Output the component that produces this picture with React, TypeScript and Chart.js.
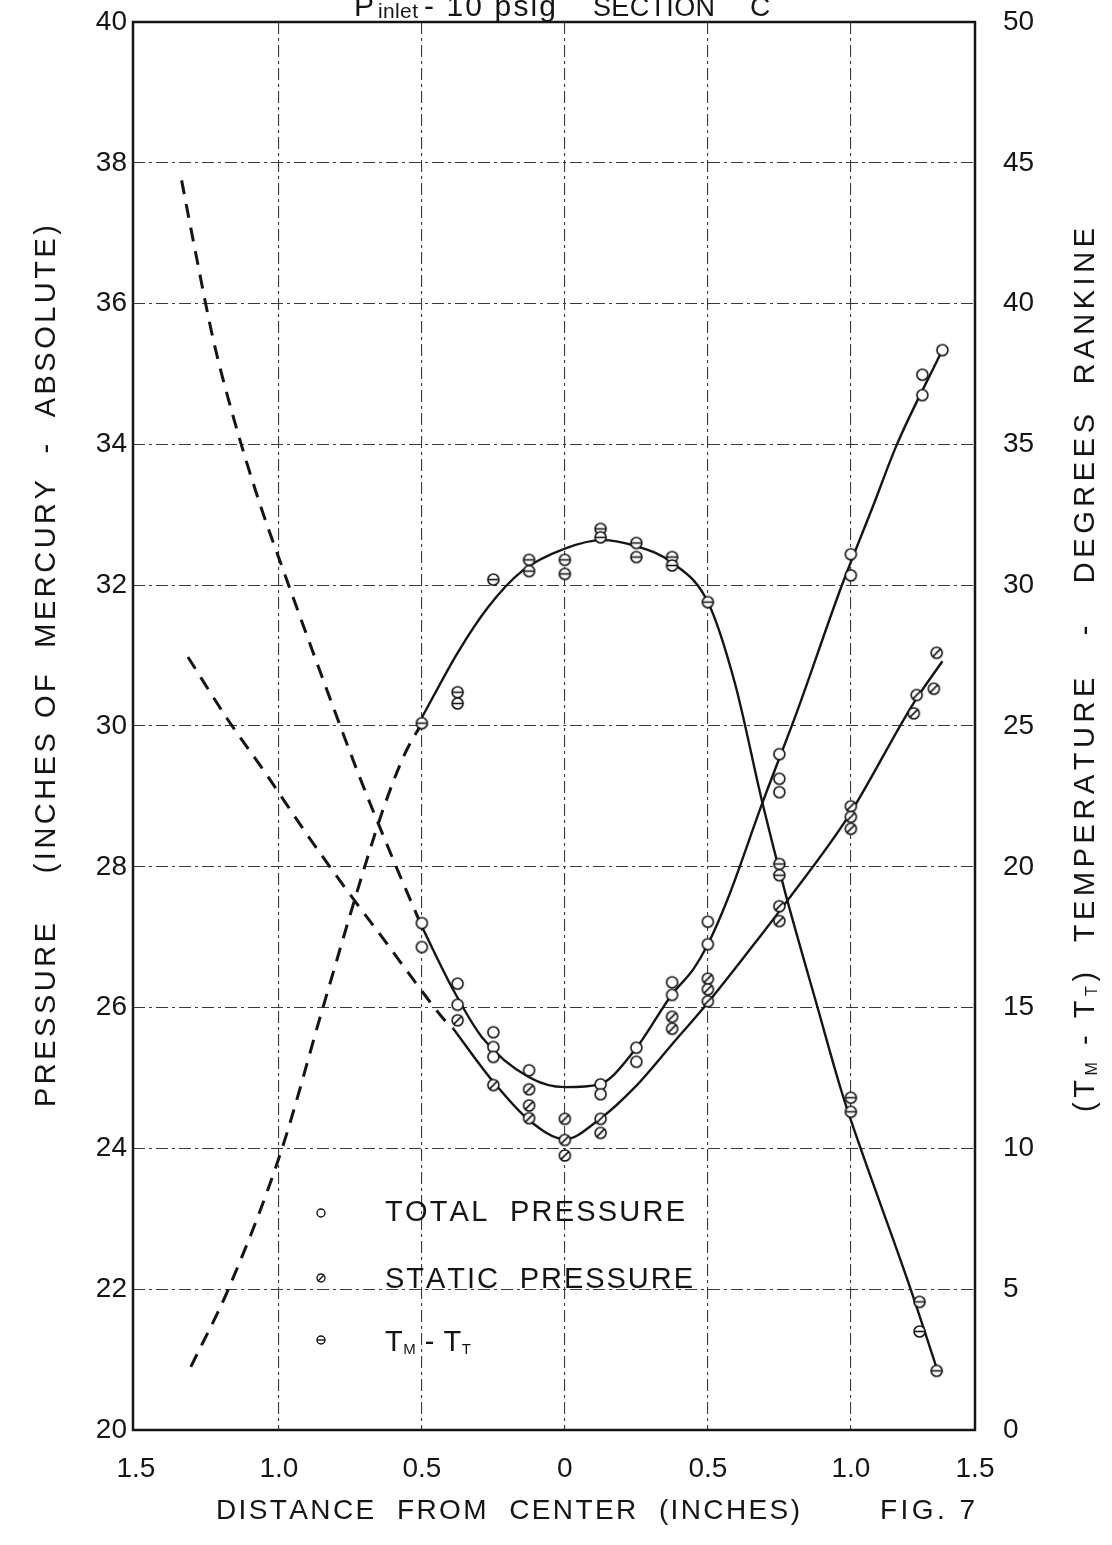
import React, { useEffect, useRef } from "react";
import { Chart, registerables } from "chart.js";

Chart.register(...registerables);

const FONT = "'Liberation Sans', 'DejaVu Sans', Arial, sans-serif";
const INK = "#151515";

// ---- axes ----
const X_MIN = -1.51;
const X_MAX = 1.434;
const X_TICK_VALUES = [-1.5, -1.0, -0.5, 0, 0.5, 1.0, 1.434];
const X_TICK_LABELS = ["1.5", "1.0", "0.5", "0", "0.5", "1.0", "1.5"];
const P_MIN = 20;
const P_MAX = 40;
const P_STEP = 2;
const T_MIN = 0;
const T_MAX = 50;
const T_STEP = 5;

// ---- total pressure (open circles) ----
const TOTAL_X = [-0.5, -0.5, -0.375, -0.375, -0.25, -0.25, -0.25, -0.125, 0.125, 0.125, 0.25, 0.25, 0.375, 0.375, 0.5, 0.5, 0.75, 0.75, 0.75, 1.0, 1.0, 1.25, 1.25, 1.32];
const TOTAL_P = [27.2, 26.86, 26.34, 26.04, 25.65, 25.44, 25.3, 25.11, 24.91, 24.77, 25.43, 25.23, 26.36, 26.18, 27.22, 26.9, 29.6, 29.25, 29.06, 32.44, 32.14, 34.99, 34.7, 35.34];
const TOTAL_CURVE_X = [-0.5, -0.39, -0.29, -0.125, 0, 0.12, 0.245, 0.375, 0.45, 0.5, 0.57, 0.69, 0.815, 0.965, 1.08, 1.16, 1.32];
const TOTAL_CURVE_P = [27.15, 26.25, 25.58, 25.01, 24.87, 24.91, 25.4, 26.19, 26.55, 26.9, 27.55, 28.9, 30.24, 31.96, 33.15, 33.99, 35.34];
const TOTAL_DASH_X = [-1.34, -1.29, -1.23, -1.16, -1.07, -0.97, -0.84, -0.72, -0.6, -0.5];
const TOTAL_DASH_P = [37.75, 36.7, 35.5, 34.4, 33.2, 32.05, 30.6, 29.3, 28.1, 27.15];

// ---- static pressure (slashed circles) ----
const STATIC_X = [-0.375, -0.25, -0.125, -0.125, -0.125, 0, 0, 0, 0.125, 0.125, 0.375, 0.375, 0.5, 0.5, 0.5, 0.75, 0.75, 1.0, 1.0, 1.0, 1.22, 1.23, 1.29, 1.3];
const STATIC_P = [25.82, 24.9, 24.84, 24.61, 24.43, 24.42, 24.12, 23.9, 24.42, 24.22, 25.87, 25.7, 26.41, 26.26, 26.09, 27.44, 27.23, 28.86, 28.71, 28.54, 30.18, 30.44, 30.53, 31.04];
const STATIC_CURVE_X = [-0.39, -0.255, -0.125, 0, 0.12, 0.245, 0.375, 0.51, 0.69, 0.78, 0.99, 1.22, 1.32];
const STATIC_CURVE_P = [25.7, 24.97, 24.4, 24.13, 24.41, 24.87, 25.48, 26.12, 27.05, 27.53, 28.71, 30.33, 30.92];
const STATIC_DASH_X = [-1.318, -1.18, -1.05, -0.9, -0.75, -0.63, -0.51, -0.42, -0.39];
const STATIC_DASH_P = [30.98, 30.1, 29.35, 28.45, 27.6, 26.95, 26.29, 25.82, 25.7];

// ---- TM - TT temperature (theta circles, right axis) ----
const TEMP_X = [-0.5, -0.375, -0.375, -0.25, -0.125, -0.125, 0, 0, 0.125, 0.125, 0.25, 0.25, 0.375, 0.375, 0.5, 0.75, 0.75, 1.0, 1.0, 1.24, 1.24, 1.3];
const TEMP_T = [25.1, 26.2, 25.8, 30.2, 30.9, 30.5, 30.9, 30.4, 32.0, 31.7, 31.5, 31.0, 31.0, 30.7, 29.4, 20.1, 19.7, 11.8, 11.3, 4.55, 3.5, 2.1];
const TEMP_CURVE_X = [-0.5, -0.375, -0.27, -0.15, 0, 0.13, 0.245, 0.375, 0.5, 0.595, 0.69, 0.77, 0.885, 0.965, 1.0, 1.21, 1.3];
const TEMP_CURVE_T = [25.3, 27.6, 29.2, 30.5, 31.3, 31.6, 31.4, 30.8, 29.4, 26.5, 22.3, 19.1, 14.95, 12.1, 11.0, 4.97, 2.2];
const TEMP_DASH_X = [-1.308, -1.178, -0.993, -0.846, -0.7, -0.63, -0.56, -0.5];
const TEMP_DASH_T = [2.24, 4.97, 9.87, 15.0, 20.0, 22.2, 24.0, 25.1];

const pts = (xs: number[], ys: number[]) => xs.map((x, i) => ({ x, y: ys[i] }));

type Seg = { t: string; size: number; dy?: number };

function drawSpaced(ctx: CanvasRenderingContext2D, segs: Seg[], x: number, y: number, targetW?: number) {
  let natural = 0;
  let n = 0;
  for (const s of segs) {
    ctx.font = `${s.size}px ${FONT}`;
    for (const ch of s.t) {
      natural += ctx.measureText(ch).width;
      n++;
    }
  }
  const ls = targetW != null && n > 1 ? (targetW - natural) / (n - 1) : 0;
  let cx = x;
  for (const s of segs) {
    ctx.font = `${s.size}px ${FONT}`;
    for (const ch of s.t) {
      ctx.fillText(ch, cx, y + (s.dy || 0));
      cx += ctx.measureText(ch).width + ls;
    }
  }
}

function markerCanvas(kind: "open" | "slash" | "theta", r: number, lw: number): HTMLCanvasElement {
  const size = Math.ceil(2 * r + 2 * lw + 4);
  const c = document.createElement("canvas");
  c.width = size;
  c.height = size;
  const g = c.getContext("2d")!;
  const m = size / 2;
  g.lineWidth = lw;
  g.strokeStyle = INK;
  g.fillStyle = "#ffffff";
  g.beginPath();
  g.arc(m, m, r, 0, Math.PI * 2);
  g.fill();
  g.stroke();
  if (kind === "slash") {
    g.beginPath();
    g.moveTo(m - r * 0.75, m + r * 0.75);
    g.lineTo(m + r * 0.75, m - r * 0.75);
    g.stroke();
  } else if (kind === "theta") {
    g.beginPath();
    g.moveTo(m - r, m);
    g.lineTo(m + r, m);
    g.stroke();
  }
  return c;
}

export default function App() {
  const ref = useRef<HTMLCanvasElement | null>(null);

  useEffect(() => {
    document.body.style.margin = "0";
    const canvas = ref.current!;
    const openM = markerCanvas("open", 5.5, 1.6);
    const slashM = markerCanvas("slash", 5.5, 1.6);
    const thetaM = markerCanvas("theta", 5.5, 1.6);

    const gridColor = (edge: (v: number) => boolean) => (c: any) =>
      c.tick && edge(c.tick.value) ? "rgba(0,0,0,0)" : "#3a3a3a";

    const decor = {
      id: "decor",
      beforeDraw(chart: any) {
        const ctx = chart.ctx as CanvasRenderingContext2D;
        ctx.save();
        ctx.fillStyle = "#ffffff";
        ctx.fillRect(0, 0, chart.width, chart.height);
        ctx.restore();
      },
      afterDraw(chart: any) {
        const ctx = chart.ctx as CanvasRenderingContext2D;
        const a = chart.chartArea;
        ctx.save();
        // frame
        ctx.strokeStyle = INK;
        ctx.lineWidth = 2.5;
        ctx.strokeRect(a.left, a.top, a.right - a.left, a.bottom - a.top);

        ctx.fillStyle = INK;
        ctx.textAlign = "left";
        ctx.textBaseline = "alphabetic";
        // top title (cropped at the page edge)
        drawSpaced(ctx, [{ t: "P", size: 30 }], 354, 16);
        drawSpaced(ctx, [{ t: "inlet", size: 21 }], 378, 18, 40);
        drawSpaced(ctx, [{ t: "- 10 psig", size: 30 }], 424, 16, 132);
        drawSpaced(ctx, [{ t: "SECTION", size: 27 }], 593, 16, 122);
        drawSpaced(ctx, [{ t: "C", size: 28 }], 750, 16);

        ctx.textBaseline = "middle";
        // bottom title
        drawSpaced(ctx, [{ t: "DISTANCE  FROM  CENTER  (INCHES)", size: 28 }], 216, 1511, 584);
        drawSpaced(ctx, [{ t: "FIG. 7", size: 28 }], 880, 1511, 95);

        // left title
        ctx.save();
        ctx.translate(47, 666);
        ctx.rotate(-Math.PI / 2);
        drawSpaced(ctx, [{ t: "PRESSURE    (INCHES OF  MERCURY  -  ABSOLUTE)", size: 29 }], -441, 0, 882);
        ctx.restore();

        // right title
        ctx.save();
        ctx.translate(1086, 670);
        ctx.rotate(-Math.PI / 2);
        drawSpaced(
          ctx,
          [
            { t: "(T", size: 29 },
            { t: "M", size: 16, dy: 7 },
            { t: " - T", size: 29 },
            { t: "T", size: 16, dy: 7 },
            { t: ")  TEMPERATURE   -   DEGREES  RANKINE", size: 29 },
          ],
          -442,
          0,
          884
        );
        ctx.restore();

        // legend
        const lm = (kind: "open" | "slash" | "theta", x: number, y: number) => {
          ctx.save();
          ctx.lineWidth = 1.4;
          ctx.strokeStyle = INK;
          ctx.fillStyle = "#fff";
          ctx.beginPath();
          ctx.arc(x, y, 4, 0, Math.PI * 2);
          ctx.fill();
          ctx.stroke();
          if (kind === "slash") {
            ctx.beginPath();
            ctx.moveTo(x - 3, y + 3);
            ctx.lineTo(x + 3, y - 3);
            ctx.stroke();
          } else if (kind === "theta") {
            ctx.beginPath();
            ctx.moveTo(x - 4, y);
            ctx.lineTo(x + 4, y);
            ctx.stroke();
          }
          ctx.restore();
        };
        lm("open", 321, 1213);
        lm("slash", 321, 1278);
        lm("theta", 321, 1340);
        drawSpaced(ctx, [{ t: "TOTAL  PRESSURE", size: 29 }], 385, 1213, 300);
        drawSpaced(ctx, [{ t: "STATIC  PRESSURE", size: 29 }], 385, 1280, 308);
        drawSpaced(
          ctx,
          [
            { t: "T", size: 29 },
            { t: "M", size: 15, dy: 7 },
            { t: " - T", size: 29 },
            { t: "T", size: 15, dy: 7 },
          ],
          385,
          1343,
          86
        );
        ctx.restore();
      },
    };

    const lineDs = (label: string, data: any[], axis: string, dashed: boolean) => ({
      label,
      data,
      yAxisID: axis,
      showLine: true,
      borderColor: INK,
      borderWidth: dashed ? 3 : 2.4,
      borderDash: dashed ? [14, 10] : [],
      pointRadius: 0,
      cubicInterpolationMode: "monotone",
      fill: false,
      order: 2,
    });
    const pointDs = (label: string, data: any[], axis: string, style: HTMLCanvasElement) => ({
      label,
      data,
      yAxisID: axis,
      showLine: false,
      pointStyle: style,
      pointRadius: 6,
      order: 0,
    });

    const chart = new Chart(canvas, {
      type: "scatter",
      data: {
        datasets: [
          lineDs("Total pressure fit", pts(TOTAL_CURVE_X, TOTAL_CURVE_P), "y", false),
          lineDs("Total pressure extrapolated", pts(TOTAL_DASH_X, TOTAL_DASH_P), "y", true),
          lineDs("Static pressure fit", pts(STATIC_CURVE_X, STATIC_CURVE_P), "y", false),
          lineDs("Static pressure extrapolated", pts(STATIC_DASH_X, STATIC_DASH_P), "y", true),
          lineDs("TM - TT fit", pts(TEMP_CURVE_X, TEMP_CURVE_T), "y1", false),
          lineDs("TM - TT extrapolated", pts(TEMP_DASH_X, TEMP_DASH_T), "y1", true),
          pointDs("TOTAL PRESSURE", pts(TOTAL_X, TOTAL_P), "y", openM),
          pointDs("STATIC PRESSURE", pts(STATIC_X, STATIC_P), "y", slashM),
          pointDs("TM - TT", pts(TEMP_X, TEMP_T), "y1", thetaM),
        ] as any,
      },
      options: {
        animation: false,
        responsive: false,
        maintainAspectRatio: false,
        layout: { padding: { top: 22, left: 0, right: 0, bottom: 0 } },
        plugins: { legend: { display: false }, tooltip: { enabled: false }, title: { display: false } },
        scales: {
          x: {
            type: "linear",
            min: X_MIN,
            max: X_MAX,
            afterBuildTicks: (ax: any) => {
              ax.ticks = X_TICK_VALUES.map((v) => ({ value: v }));
            },
            afterFit: (s: any) => {
              s.height = 115;
              s.paddingLeft = 0;
              s.paddingRight = 0;
            },
            ticks: {
              autoSkip: false,
              maxRotation: 0,
              padding: 22,
              color: INK,
              font: { family: FONT, size: 28 },
              callback: (_v: any, i: number) => X_TICK_LABELS[i],
            },
            grid: {
              color: gridColor((v) => Math.abs(v) > 1.2),
              lineWidth: 1.1,
              drawTicks: false,
            },
            border: { display: false, dash: [12, 4, 3, 4] },
          },
          y: {
            position: "left",
            min: P_MIN,
            max: P_MAX,
            afterFit: (s: any) => {
              s.width = 133;
              s.paddingTop = 0;
              s.paddingBottom = 0;
            },
            ticks: { stepSize: P_STEP, padding: 6, color: INK, font: { family: FONT, size: 28 } },
            grid: {
              color: gridColor((v) => v <= P_MIN || v >= P_MAX),
              lineWidth: 1.1,
              drawTicks: false,
            },
            border: { display: false, dash: [12, 4, 3, 4] },
          },
          y1: {
            position: "right",
            min: T_MIN,
            max: T_MAX,
            afterFit: (s: any) => {
              s.width = 137;
              s.paddingTop = 0;
              s.paddingBottom = 0;
            },
            ticks: { stepSize: T_STEP, padding: 28, color: INK, font: { family: FONT, size: 28 } },
            grid: { display: false, drawTicks: false },
            border: { display: false },
          },
        },
      } as any,
      plugins: [decor],
    });

    return () => {
      chart.destroy();
    };
  }, []);

  return <canvas ref={ref} width={1112} height={1545} style={{ display: "block" }} />;
}
